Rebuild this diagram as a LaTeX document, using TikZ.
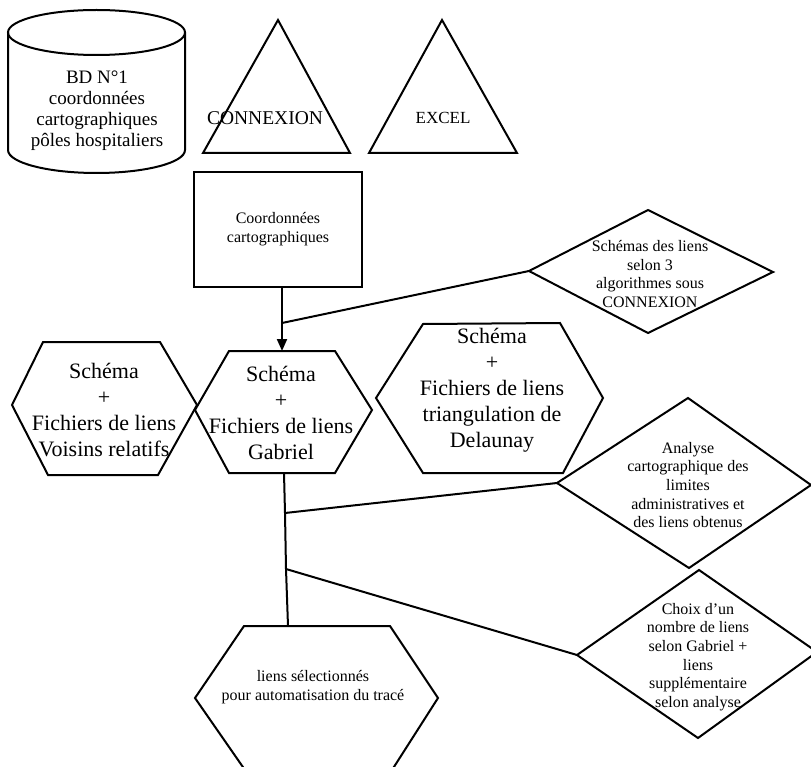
\documentclass[tikz,border=0pt]{standalone}
\usepackage{fontspec}
\setmainfont{Liberation Serif}
\usetikzlibrary{arrows.meta}
\tikzset{
  shp/.style={draw=black, line width=2pt, line join=miter},
  con/.style={draw=black, line width=2pt},
  big/.style={align=center, inner sep=0pt, font=\fontsize{22}{26}\selectfont},
  small/.style={align=center, inner sep=0pt, font=\fontsize{16}{18.7}\selectfont},
  mid/.style={align=center, inner sep=0pt, font=\fontsize{19}{21}\selectfont},
}
\begin{document}
\begin{tikzpicture}[x=1pt, y=-1pt]
\useasboundingbox (0,0) rectangle (811,767);
\clip (0,0) rectangle (811,767);
% database cylinder
\draw[shp] (96.5,32.5) ellipse [x radius=88.5pt, y radius=22.5pt];
\draw[shp] (8,32.5) -- (8,150) arc [start angle=180, end angle=360, x radius=88.5pt, y radius=23pt] -- (185,32.5);
\node[mid] (bd) at (97,111) {BD N°1\\coordonnées\\cartographiques\\pôles hospitaliers};
% triangles
\draw[shp] (278,20) -- (203,153) -- (350,153) -- cycle;
\node[inner sep=0pt, font=\fontsize{19.5}{20}\selectfont] (cnx) at (265,118) {CONNEXION};
\draw[shp] (442,20) -- (369,153) -- (517,153) -- cycle;
\node[inner sep=0pt, font=\fontsize{17}{20}\selectfont] (xls) at (443,118) {EXCEL};
% rectangle
\node[shp, minimum width=168pt, minimum height=115pt, small, inner sep=0pt] (coord) at (278,229.5) {Coordonnées\\cartographiques};
% diamond: schemas
\coordinate (sdL) at (529,271);
\draw[shp] (sdL) -- (648,210) -- (773,272) -- (648,333) -- cycle;
\node[small] (sd) at (650,274) {Schémas des liens\\selon 3\\algorithmes sous\\CONNEXION};
% hexagon Voisins
\draw[shp] (43,342) -- (160,342) -- (197,405) -- (158,475) -- (48,475) -- (12,405) -- cycle;
\node[big] (vois) at (104,410) {Schéma\\+\\Fichiers de liens\\Voisins relatifs};
% hexagon Gabriel
\coordinate (gabT) at (282,351);
\coordinate (gabB) at (284,473);
\draw[shp] (229,351) -- (335,351) -- (372,410) -- (335,473) -- (229,473) -- (195,410) -- cycle;
\node[big] (gab) at (281,413) {Schéma\\+\\Fichiers de liens\\Gabriel};
% hexagon Delaunay
\draw[shp] (423,324) -- (560,323) -- (603,398) -- (563,473) -- (423,473) -- (376,398) -- cycle;
\node[big] (del) at (492,390) {Schéma\\+\\Fichiers de liens\\triangulation de\\Delaunay};
% diamond Analyse
\coordinate (anL) at (557,483);
\draw[shp] (anL) -- (688,398) -- (811,485) -- (689,568) -- cycle;
\node[small] (an) at (688,485) {Analyse\\cartographique des\\limites\\administratives et\\des liens obtenus};
% diamond Choix
\coordinate (chL) at (577,655);
\draw[shp] (chL) -- (699,570) -- (817,652) -- (698,738) -- cycle;
\node[small] (ch) at (698,657) {Choix d'un\\nombre de liens\\selon Gabriel +\\liens\\supplémentaire\\selon analyse};
% bottom hexagon
\coordinate (selT) at (288,626);
\draw[shp] (244,626) -- (390,626) -- (438,698) -- (392,770) -- (245,770) -- (195,698) -- cycle;
\node[small] (sel) at (313,687) {liens sélectionnés\\pour automatisation du tracé};
% connectors
\coordinate (j1) at (282,323);
\coordinate (j2) at (285,513);
\coordinate (j3) at (286,569);
\draw[con, -{Triangle[length=12pt, width=10pt]}] (coord.south -| gabT) -- (gabT);
\draw[con] (sdL) -- (j1);
\draw[con] (gabB) -- (j2) -- (j3) -- (selT);
\draw[con] (j2) -- (anL);
\draw[con] (j3) -- (chL);
\end{tikzpicture}
\end{document}
